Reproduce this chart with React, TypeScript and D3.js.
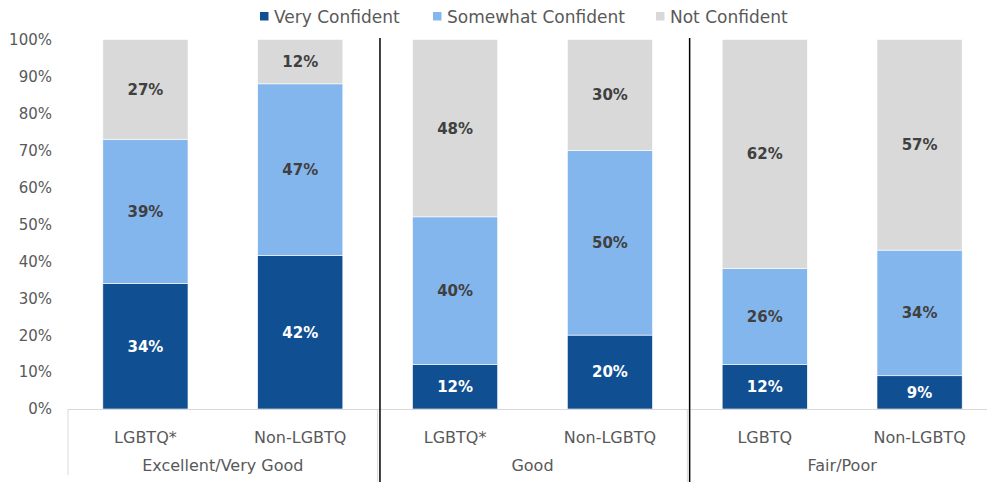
import React from "react";
import * as d3 from "d3";

const categories = ["LGBTQ*", "Non-LGBTQ", "LGBTQ*", "Non-LGBTQ", "LGBTQ", "Non-LGBTQ"];
const groups = ["Excellent/Very Good", "Good", "Fair/Poor"];
const seriesNames = ["Very Confident", "Somewhat Confident", "Not Confident"];
const veryConfident = [34, 41.5, 12, 20, 12, 9];
const somewhatConfident = [39, 46.5, 40, 50, 26, 34];
const notConfident = [27, 12, 48, 30, 62, 57];
const yTicks = [0, 10, 20, 30, 40, 50, 60, 70, 80, 90, 100];

const colors = ["#114F93", "#84B6EE", "#D9D9D9"];
const labelColors = ["#FFFFFF", "#404040", "#404040"];
const FONT = "'DejaVu Sans', sans-serif";

export default function App() {
  const W = 987;
  const H = 482;
  const left = 68;
  const right = 997;
  const yTop = 39.5;
  const yBottom = 409;

  const x = d3.scaleBand<number>().domain(d3.range(categories.length)).range([left, right]).paddingInner(0.45).paddingOuter(0.225);
  const step = x.step();
  const y = d3.scaleLinear().domain([0, 100]).range([yBottom, yTop]);

  const rows = categories.map((c, i) => ({ i, v0: veryConfident[i], v1: somewhatConfident[i], v2: notConfident[i] }));
  const stack = d3.stack<any>().keys(["v0", "v1", "v2"])(rows);

  const legendX = [260, 433, 656];

  const groupBoundaries = [0, 2, 4].map((k) => left + k * step);

  return (
    <svg width={W} height={H} style={{ position: "absolute", left: 0, top: 0, overflow: "hidden" }} fontFamily={FONT}>
      <rect x={0} y={0} width={W} height={H} fill="#fff" />
      {/* legend */}
      {seriesNames.map((s, k) => (
        <g key={s} transform={`translate(${legendX[k]},0)`}>
          <rect x={0} y={12} width={8.5} height={8.5} fill={colors[k]} />
          <text x={14} y={22.5} fontSize={17} fill="#595959">{s}</text>
        </g>
      ))}
      {/* y ticks */}
      {yTicks.map((t) => (
        <text key={t} x={52} y={y(t)} dy="0.36em" textAnchor="end" fontSize={15} fill="#595959">
          {t}%
        </text>
      ))}
      {/* bars */}
      {stack.map((layer, k) => (
        <g key={k}>
          {layer.map((d: any, i: number) => (
            <rect key={i} x={x(i)} y={y(d[1])} width={x.bandwidth()} height={y(d[0]) - y(d[1])} fill={colors[k]} stroke="#ffffff" strokeWidth={0.6} />
          ))}
        </g>
      ))}
      {/* data labels */}
      {stack.map((layer, k) => (
        <g key={"l" + k}>
          {layer.map((d: any, i: number) => (
            <text key={i} x={(x(i) as number) + x.bandwidth() / 2} y={y((d[0] + d[1]) / 2)} dy="0.36em" textAnchor="middle" fontSize={15} fontWeight="bold" fill={labelColors[k]}>
              {Math.round(d[1] - d[0])}%
            </text>
          ))}
        </g>
      ))}
      {/* axis line */}
      <line x1={left} x2={W} y1={yBottom + 0.5} y2={yBottom + 0.5} stroke="#D9D9D9" strokeWidth={1} />
      {groupBoundaries.map((gx, k) => (
        <line key={k} x1={gx} x2={gx} y1={yBottom} y2={k === 0 ? 475 : H} stroke="#D9D9D9" strokeWidth={1} />
      ))}
      {/* category labels */}
      {categories.map((c, i) => (
        <text key={i} x={(x(i) as number) + x.bandwidth() / 2} y={437} dy="0.36em" textAnchor="middle" fontSize={16} fill="#595959">
          {c}
        </text>
      ))}
      {groups.map((g, k) => (
        <text key={g} x={left + (2 * k + 1) * step} y={465} dy="0.36em" textAnchor="middle" fontSize={16} fill="#595959">
          {g}
        </text>
      ))}
      {/* black separators */}
      {[1, 2].map((k) => (
        <line key={k} x1={groupBoundaries[k] + 2.3} x2={groupBoundaries[k] + 2.3} y1={38} y2={H} stroke="#000" strokeWidth={1.5} />
      ))}
    </svg>
  );
}
